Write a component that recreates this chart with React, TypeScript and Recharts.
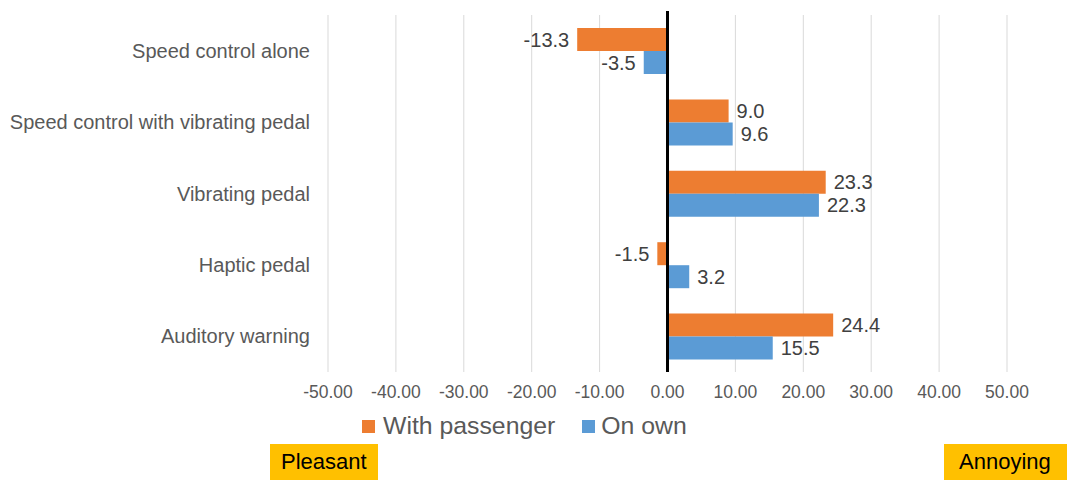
import React from 'react';
import {
  BarChart,
  Bar,
  XAxis,
  YAxis,
  CartesianGrid,
  Legend,
  LabelList,
  ReferenceLine,
} from 'recharts';

const categories = [
  'Speed control alone',
  'Speed control with vibrating pedal',
  'Vibrating pedal',
  'Haptic pedal',
  'Auditory warning',
];
const withPassenger = [-13.3, 9.0, 23.3, -1.5, 24.4];
const onOwn = [-3.5, 9.6, 22.3, 3.2, 15.5];
const xTicks = [-50, -40, -30, -20, -10, 0, 10, 20, 30, 40, 50];

const ORANGE = '#ED7D31';
const BLUE = '#5B9BD5';
const FONT = '"Liberation Sans", Arial, sans-serif';

const data = categories.map((name, i) => ({
  name,
  passenger: withPassenger[i],
  own: onOwn[i],
}));

// value label sits just past the bar end, left side for negatives
const ValueLabel = (props: any) => {
  const { x, y, width, height, value } = props;
  const left = Math.min(x, x + width);
  const right = Math.max(x, x + width);
  const neg = value < 0;
  return (
    <text
      x={neg ? left - 8 : right + 8}
      y={y + height / 2}
      textAnchor={neg ? 'end' : 'start'}
      dominantBaseline="central"
      fill="#404040"
      fontSize={20}
      fontFamily={FONT}
    >
      {Number(value).toFixed(1)}
    </text>
  );
};

// zero axis pokes a little above the plot area
const ZeroLine = (props: any) => (
  <line x1={props.x1} x2={props.x2} y1={Math.min(props.y1, props.y2) - 4} y2={Math.max(props.y1, props.y2)} stroke="#000" strokeWidth={3} />
);

const LegendContent = () => (
  <div style={{ display: 'flex', alignItems: 'center', height: 30, fontFamily: FONT, fontSize: 24.8, color: '#595959' }}>
    <span style={{ width: 13, height: 13, background: ORANGE, marginRight: 8 }} />
    <span style={{ marginRight: 27 }}>With passenger</span>
    <span style={{ width: 13, height: 13, background: BLUE, marginRight: 6 }} />
    <span>On own</span>
  </div>
);

const tagStyle: React.CSSProperties = {
  position: 'absolute',
  top: 444,
  height: 36,
  background: '#FFC000',
  color: '#000',
  fontFamily: FONT,
  fontSize: 22,
  lineHeight: '36px',
  boxSizing: 'border-box',
};

export default function App() {
  return (
    <div style={{ position: 'absolute', left: 0, top: 0, width: 1067, height: 480, background: '#fff' }}>
      <BarChart
        width={1067}
        height={480}
        data={data}
        layout="vertical"
        margin={{ top: 15, right: 60, left: 0, bottom: 48 }}
        barGap={0}
        barSize={23}
      >
        <CartesianGrid horizontal={false} stroke="#D9D9D9" />
        <XAxis
          type="number"
          domain={[-50, 50]}
          ticks={xTicks}
          tickFormatter={(v) => Number(v).toFixed(2)}
          axisLine={false}
          tickLine={false}
          tickSize={0}
          tickMargin={14}
          height={30}
          tick={{ fill: '#595959', fontSize: 17.5, fontFamily: FONT }}
        />
        <YAxis
          type="category"
          dataKey="name"
          width={328}
          axisLine={false}
          tickLine={false}
          tickSize={0}
          tickMargin={18}
          tick={{ fill: '#595959', fontSize: 20, fontFamily: FONT }}
        />
        <Legend
          content={<LegendContent />}
          wrapperStyle={{ top: 411, bottom: 'auto', left: 362, width: 'auto' }}
        />
        <Bar dataKey="passenger" name="With passenger" fill={ORANGE} isAnimationActive={false}>
          <LabelList dataKey="passenger" content={<ValueLabel />} />
        </Bar>
        <Bar dataKey="own" name="On own" fill={BLUE} isAnimationActive={false}>
          <LabelList dataKey="own" content={<ValueLabel />} />
        </Bar>
        <ReferenceLine x={0} ifOverflow="visible" shape={<ZeroLine />} />
      </BarChart>
      <div style={{ ...tagStyle, left: 270, width: 108, paddingLeft: 11 }}>Pleasant</div>
      <div style={{ ...tagStyle, left: 944, width: 123, paddingLeft: 15 }}>Annoying</div>
    </div>
  );
}
